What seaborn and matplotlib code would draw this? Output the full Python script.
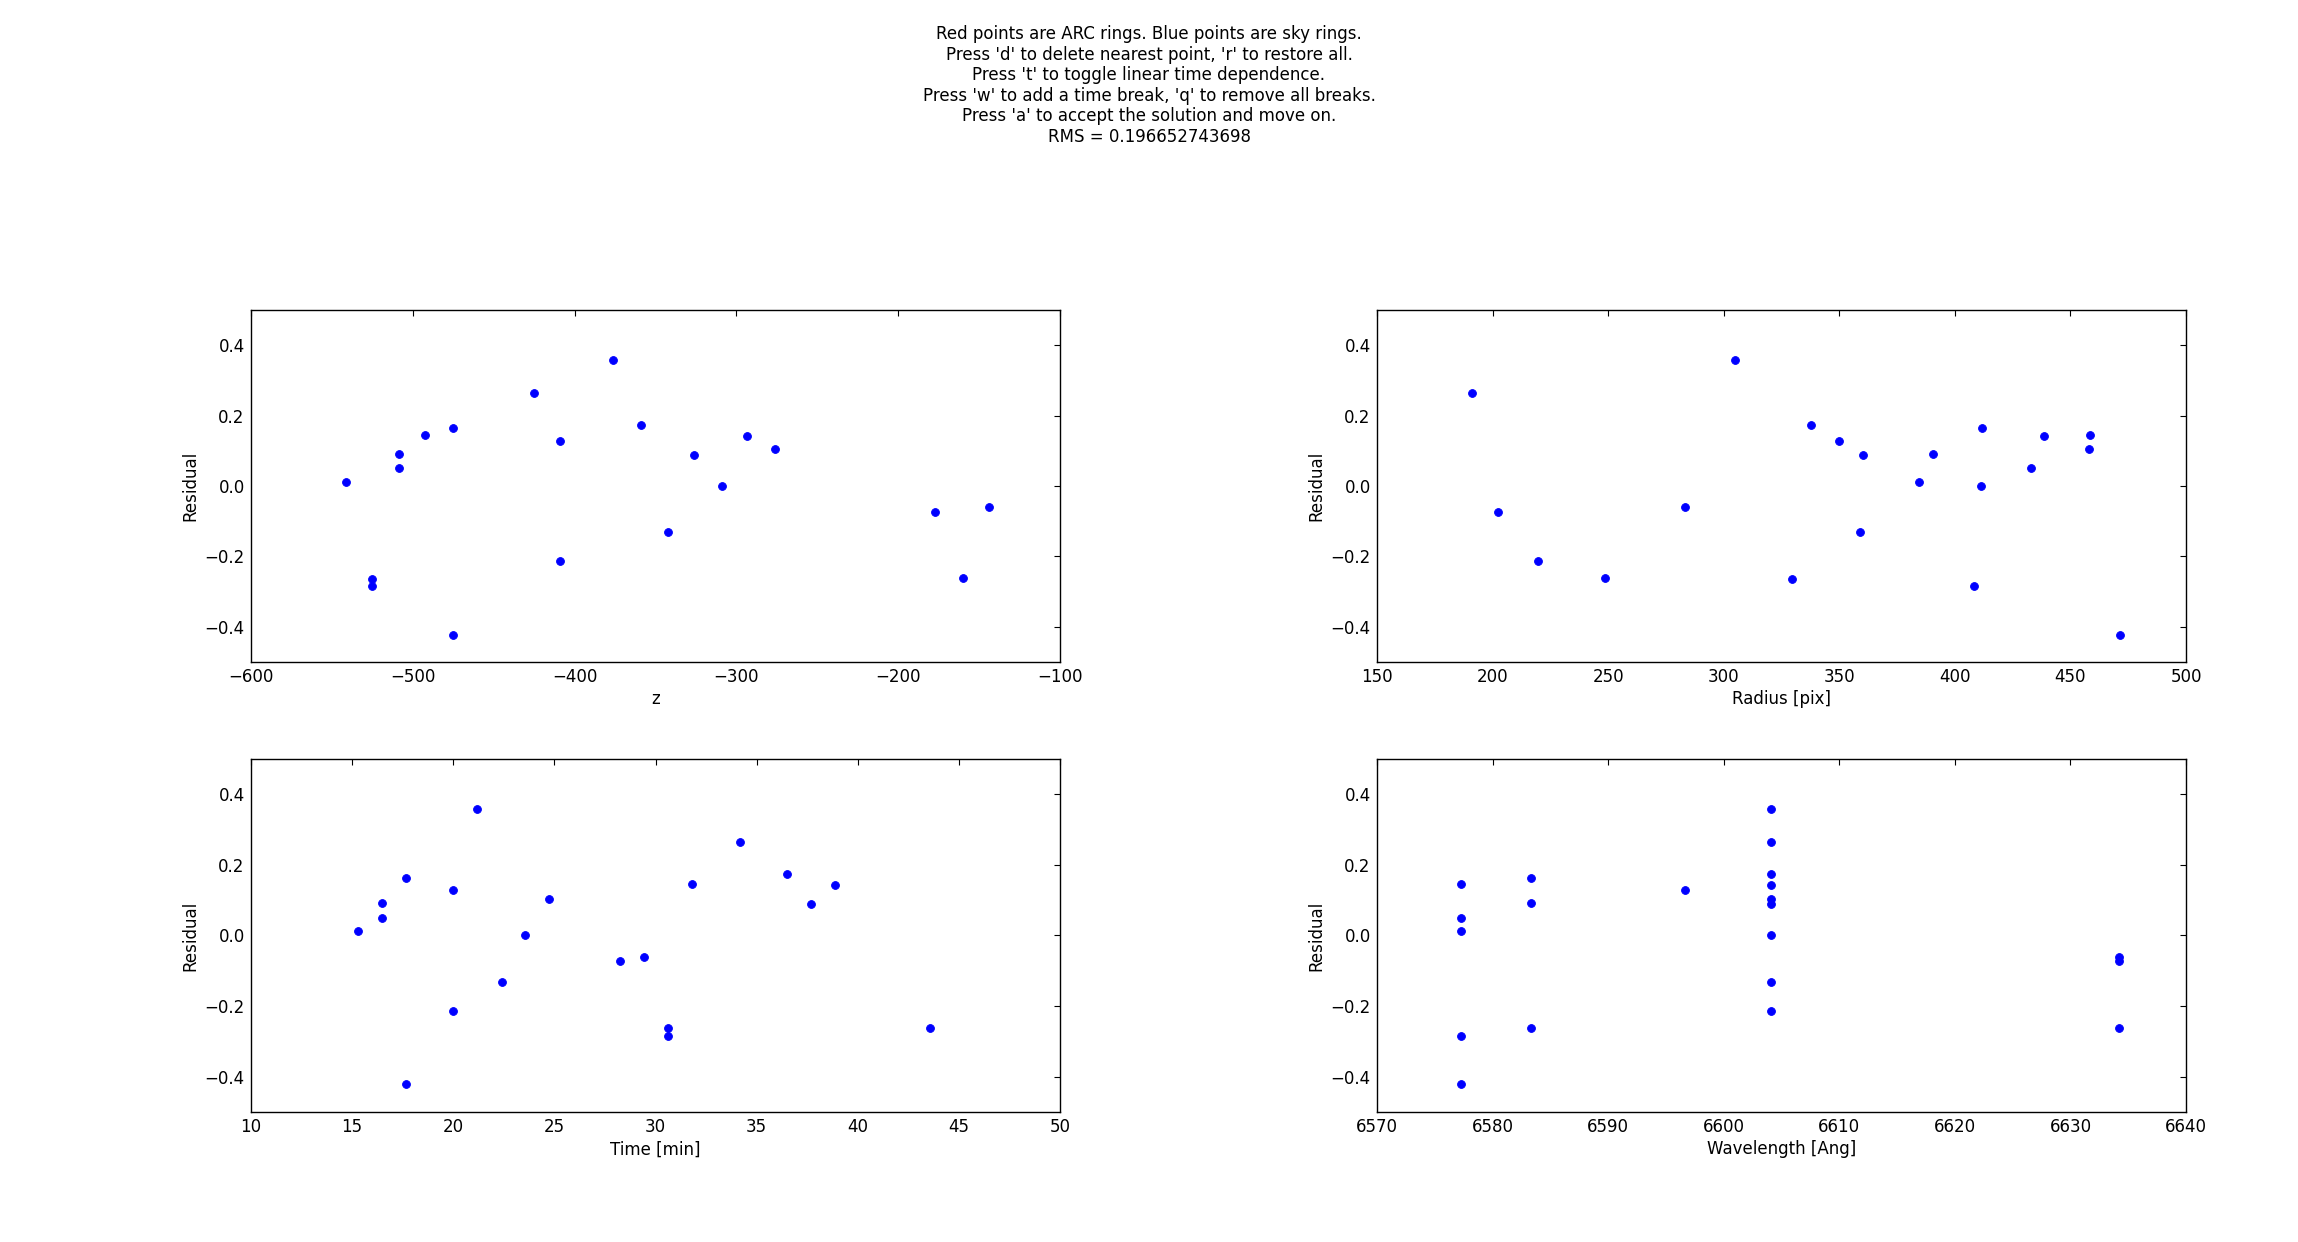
import matplotlib
matplotlib.use("Agg")
import matplotlib.pyplot as plt
import seaborn as sns
import pandas as pd

# ---- data ----
z = [-541.3, -525.3, -525.3, -508.3, -508.3, -492.3, -475.3, -475.3, -425.2, -408.9,
     -408.9, -376.3, -359.2, -342.2, -326.3, -309.2, -293.3, -276.2, -177.2, -160.2, -144.2]
radius = [384.4, 329.6, 408.3, 390.5, 433.0, 458.6, 411.9, 471.6, 190.9, 349.9,
          219.6, 304.7, 337.7, 358.8, 360.1, 411.4, 438.5, 457.8, 202.3, 248.8, 283.1]
time_min = [15.31, 30.62, 30.62, 16.47, 16.47, 31.81, 17.66, 17.66, 34.16, 20.01,
            20.01, 21.17, 36.51, 22.39, 37.70, 23.55, 38.89, 24.74, 28.25, 43.59, 29.43]
wavelength = [6577.26, 6583.36, 6577.26, 6583.36, 6577.26, 6577.26, 6583.36, 6577.26, 6604.08, 6596.62,
              6604.08, 6604.08, 6604.08, 6604.08, 6604.08, 6604.08, 6604.08, 6604.08, 6634.21, 6634.21, 6634.21]
residual = [0.012, -0.263, -0.284, 0.091, 0.050, 0.146, 0.164, -0.422, 0.264, 0.129,
            -0.213, 0.359, 0.173, -0.132, 0.089, 0.001, 0.143, 0.104, -0.073, -0.262, -0.060]

x_labels = ["z", "Radius [pix]", "Time [min]", "Wavelength [Ang]"]
x_columns = ["z", "radius", "time", "wavelength"]
x_limits = [(-600, -100), (150, 500), (10, 50), (6570, 6640)]
x_steps = [100, 50, 5, 10]
y_ticks = [-0.4, -0.2, 0.0, 0.2, 0.4]

title_lines = [
    "Red points are ARC rings. Blue points are sky rings.",
    "Press 'd' to delete nearest point, 'r' to restore all.",
    "Press 't' to toggle linear time dependence.",
    "Press 'w' to add a time break, 'q' to remove all breaks.",
    "Press 'a' to accept the solution and move on.",
    "RMS = 0.196652743698",
]

df = pd.DataFrame({"z": z, "radius": radius, "time": time_min,
                   "wavelength": wavelength, "residual": residual})

sns.set_style("white")
plt.rcParams["font.family"] = ["DejaVu Sans"]
plt.rcParams["font.size"] = 12
plt.rcParams["axes.unicode_minus"] = True
plt.rcParams["text.color"] = "black"
plt.rcParams["axes.labelcolor"] = "black"
plt.rcParams["xtick.color"] = "black"
plt.rcParams["ytick.color"] = "black"

fig = plt.figure(figsize=(22.98, 12.42), dpi=100)
positions = [
    [0.1092, 0.4670, 0.3521, 0.2834],
    [0.5992, 0.4670, 0.3521, 0.2834],
    [0.1092, 0.1047, 0.3521, 0.2842],
    [0.5992, 0.1047, 0.3521, 0.2842],
]

for i in range(4):
    ax = fig.add_axes(positions[i])
    sns.scatterplot(data=df, x=x_columns[i], y="residual", ax=ax,
                    color="#0000ff", edgecolor="#0000ff", s=32, linewidth=0.6)
    lo, hi = x_limits[i]
    ax.set_xlim(lo, hi)
    ax.set_ylim(-0.5, 0.5)
    ticks = [lo + k * x_steps[i] for k in range(int(round((hi - lo) / x_steps[i])) + 1)]
    ax.set_xticks(ticks)
    ax.set_yticks(y_ticks)
    ax.set_xlabel(x_labels[i], fontsize=12, labelpad=3, color="black")
    ax.set_ylabel("Residual", fontsize=12, color="black")
    ax.tick_params(direction="in", top=True, right=True, length=4.5, width=0.8,
                   labelsize=12, colors="black", pad=4.5)
    for sp in ax.spines.values():
        sp.set_visible(True)
        sp.set_linewidth(1.0)
        sp.set_color("black")

fig.text(0.5, 0.980, "\n".join(title_lines), ha="center", va="top",
         fontsize=12, linespacing=1.19, color="black")

fig.savefig("out.png", dpi=100, facecolor="white")
